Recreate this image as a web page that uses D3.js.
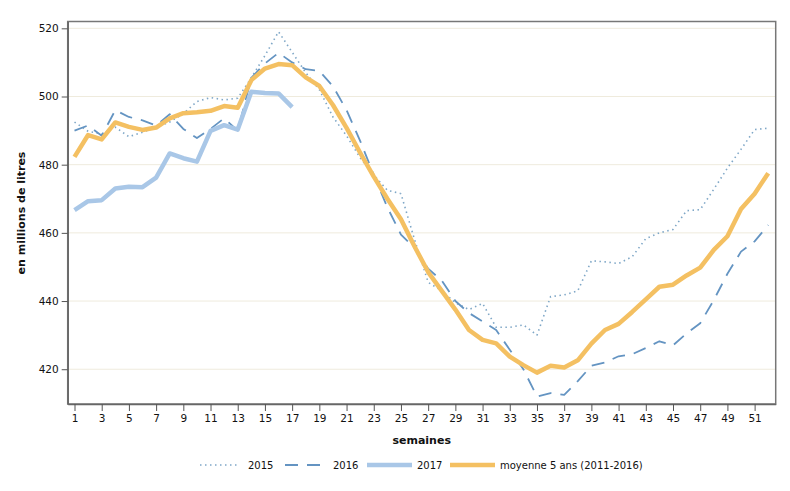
<!DOCTYPE html>
<html>
<head>
<meta charset="utf-8">
<script src="https://cdn.jsdelivr.net/npm/d3@7"></script>
<style>
    body { margin: 0; background: #fff; }
    text { font-family: "DejaVu Sans", Verdana, sans-serif; fill: #111; }
</style>
</head>
<body>
<svg id="chart" width="790" height="491"></svg>
<script>
// weekly values, in millions of litres
const weeks = d3.range(1, 53);

const s2015 = [492.5, 489.8, 489, 491, 488.2, 489.5, 491, 492.5, 495, 498.5, 499.7, 499, 499.5,
    505.5, 512, 519, 513, 507, 502, 494, 488.5, 482, 477, 472.5, 471.5, 458, 445.5, 443, 439.5,
    437.5, 439.3, 432.3, 432.3, 433, 430, 441.3, 441.8, 443, 451.8, 451.5, 451, 453, 458.3, 460,
    461, 466.5, 466.8, 472.8, 479, 484.5, 490.3, 490.7];

const s2016 = [490, 491.5, 488.5, 496, 494, 493, 491.5, 494.8, 490.5, 487.8, 490.5, 493.6, 490,
    505.5, 509.7, 512.8, 510, 508, 507.5, 503, 496, 487, 477, 467.5, 459.5, 455.5, 449.5, 446, 440,
    436.5, 434, 431.5, 425.7, 420, 412, 413, 412.5, 416.5, 421, 422, 423.8, 424.4, 426.2, 428.2,
    427, 430.5, 433.5, 440.3, 448, 454.5, 457.5, 462.3];

const s2017 = [466.7, 469.3, 469.6, 473, 473.5, 473.4, 476.2, 483.3, 481.9, 480.9, 489.9, 491.6,
    490.3, 501.4, 501, 500.9, 496.9];

const avg5 = [482.3, 488.7, 487.4, 492.4, 491.1, 490.2, 490.9, 493.6, 495.1, 495.4, 495.8, 497.2,
    496.7, 504.8, 508.2, 509.5, 509.2, 505.6, 503.1, 497.5, 490.8, 483.5, 476.5, 470, 464, 456,
    448.5, 443, 437.5, 431.5, 428.6, 427.6, 423.7, 421.2, 419, 421, 420.5, 422.6, 427.5, 431.5,
    433.3, 436.8, 440.5, 444.2, 444.8, 447.5, 449.8, 455, 459, 467, 471.5, 477.5];

const xTicks = d3.range(1, 52, 2);
const yTicks = [420, 440, 460, 480, 500, 520];

const seriesList = [
    { label: '2015', values: s2015, color: '#7fa7c7', width: 1.6, dash: '1.5,3.5' },
    { label: '2016', values: s2016, color: '#6494c2', width: 1.8, dash: '13,9' },
    { label: '2017', values: s2017, color: '#a9c7e7', width: 4.5, dash: null },
    { label: 'moyenne 5 ans (2011-2016)', values: avg5, color: '#f4c062', width: 4.5, dash: null }
];

const svg = d3.select('#chart');
const margin = { left: 67.7, top: 21.5, right: 775.7, bottom: 404 };

const x = d3.scaleLinear().domain([0.5, 52.55]).range([margin.left, margin.right]);
const y = d3.scaleLinear().domain([409.8, 522]).range([margin.bottom, margin.top]);

// gridlines
svg.append('g')
    .selectAll('line')
    .data(yTicks)
    .join('line')
    .attr('x1', margin.left)
    .attr('x2', margin.right)
    .attr('y1', d => y(d))
    .attr('y2', d => y(d))
    .attr('stroke', '#efebdd')
    .attr('stroke-width', 1);

// frame
svg.append('rect')
    .attr('x', margin.left)
    .attr('y', margin.top)
    .attr('width', margin.right - margin.left)
    .attr('height', margin.bottom - margin.top)
    .attr('fill', 'none')
    .attr('stroke', '#777')
    .attr('stroke-width', 1.5);

// lines
const line = d3.line()
    .x((d, i) => x(weeks[i]))
    .y(d => y(d));

seriesList.forEach(s => {
    svg.append('path')
        .datum(s.values)
        .attr('d', line)
        .attr('fill', 'none')
        .attr('stroke', s.color)
        .attr('stroke-width', s.width)
        .attr('stroke-dasharray', s.dash)
        .attr('stroke-linejoin', 'round');
});

// axes
const xAxis = svg.append('g')
    .attr('transform', `translate(0,${margin.bottom})`)
    .call(d3.axisBottom(x).tickValues(xTicks).tickSize(7).tickSizeOuter(0).tickPadding(4));

const yAxis = svg.append('g')
    .attr('transform', `translate(${margin.left},0)`)
    .call(d3.axisLeft(y).tickValues(yTicks).tickSize(6).tickSizeOuter(0).tickPadding(3));

[xAxis, yAxis].forEach(ax => {
    ax.select('.domain').attr('stroke', '#666').attr('stroke-width', 1.5);
    ax.selectAll('.tick line').attr('stroke', '#555');
    ax.selectAll('.tick text')
        .style('font-family', '"DejaVu Sans", Verdana, sans-serif')
        .style('font-size', '10.5px')
        .attr('fill', '#111');
});

// axis titles
svg.append('text')
    .attr('x', (margin.left + margin.right) / 2)
    .attr('y', 444)
    .attr('text-anchor', 'middle')
    .style('font-size', '11px')
    .style('font-weight', 'bold')
    .text('semaines');

svg.append('text')
    .attr('transform', 'translate(25,213) rotate(-90)')
    .attr('text-anchor', 'middle')
    .style('font-size', '11px')
    .style('font-weight', 'bold')
    .text('en millions de litres');

// legend
const legendX = [200, 285, 367, 450];
const legend = svg.append('g');
seriesList.forEach((s, i) => {
    const g = legend.append('g').attr('transform', `translate(${legendX[i]},465)`);
    g.append('line')
        .attr('x1', 0)
        .attr('x2', i < 2 ? 40 : 45)
        .attr('stroke', s.color)
        .attr('stroke-width', s.width)
        .attr('stroke-dasharray', s.dash);
    g.append('text')
        .attr('x', i < 2 ? 48 : 50)
        .attr('y', 3.5)
        .style('font-size', '10px')
        .text(s.label);
});
</script>
</body>
</html>
